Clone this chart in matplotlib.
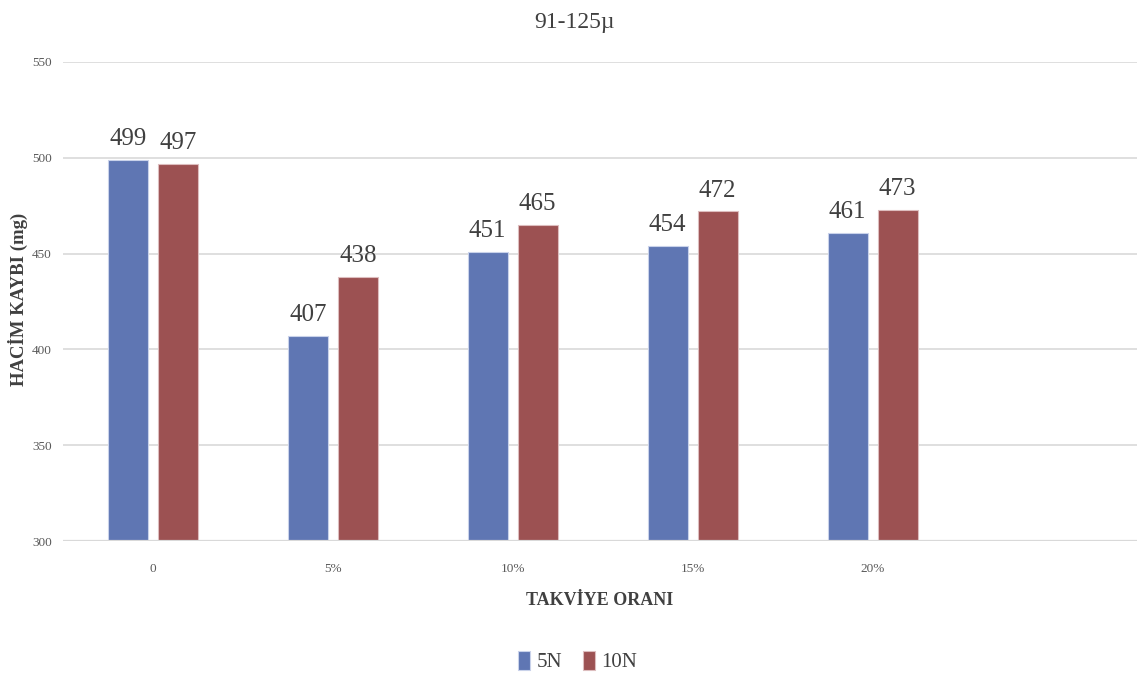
import matplotlib
matplotlib.use("Agg")
import matplotlib.pyplot as plt
import numpy as np

categories = ["0", "5%", "10%", "15%", "20%"]
series_names = ["5N", "10N"]
values_5n = [499, 407, 451, 454, 461]
values_10n = [497, 438, 465, 472, 473]
y_ticks = [300, 350, 400, 450, 500, 550]

colors = ["#5F76B3", "#9C5152"]
edges = ["#C9D2EA", "#DDBDBE"]
text_dark = "#404040"
text_grey = "#595959"

plt.rcParams["font.family"] = ["Liberation Serif", "DejaVu Serif"]

fig = plt.figure(figsize=(11.37, 6.78), dpi=100)
ax = fig.add_axes([0.0554, 0.202, 0.9446, 0.7066])

x = np.arange(len(categories))
width = 0.222
offset = 0.139

for vals, off, c, ec, name in zip([values_5n, values_10n], [-offset, offset],
                                   colors, edges, series_names):
    bars = ax.bar(x + off, vals, width, color=c, edgecolor=ec, linewidth=0.8,
                  label=name, zorder=3)
    for b, v in zip(bars, vals):
        ax.annotate(f"{v}", (b.get_x() + b.get_width() / 2, v),
                    xytext=(0, 7), textcoords="offset points",
                    ha="center", va="bottom", fontsize=18, color=text_dark)

ax.set_ylim(y_ticks[0], y_ticks[-1])
ax.set_xlim(-0.5, 5.47)
ax.set_yticks(y_ticks)
ax.set_xticks(x)
ax.set_xticklabels(categories)
ax.tick_params(axis="both", length=0, labelsize=9.5, labelcolor=text_grey)
ax.tick_params(axis="x", pad=16)
ax.tick_params(axis="y", pad=8)
ax.grid(axis="y", color="#D9D9D9", linewidth=1.2, zorder=0)
for s in ax.spines.values():
    s.set_visible(False)
ax.axhline(y_ticks[0], color="#D9D9D9", linewidth=1.6, zorder=4)

fig.suptitle("91-125µ", x=0.505, y=0.967, fontsize=17, color=text_dark,
             va="center")
ax.set_xlabel("TAKVİYE ORANI", fontsize=13, fontweight="bold", color=text_dark,
              labelpad=12)
fig.text(0.016, 0.559, "HACİM KAYBI (mg)", rotation=90, fontsize=13.5,
         fontweight="bold", color=text_dark, ha="center", va="center")

fig.legend(loc="center", bbox_to_anchor=(0.508, 0.024), ncol=2, frameon=False,
           fontsize=15, handlelength=0.6, handleheight=1.0, handletextpad=0.3,
           columnspacing=1.0, labelcolor=text_dark)

fig.savefig("out.png", dpi=100)
